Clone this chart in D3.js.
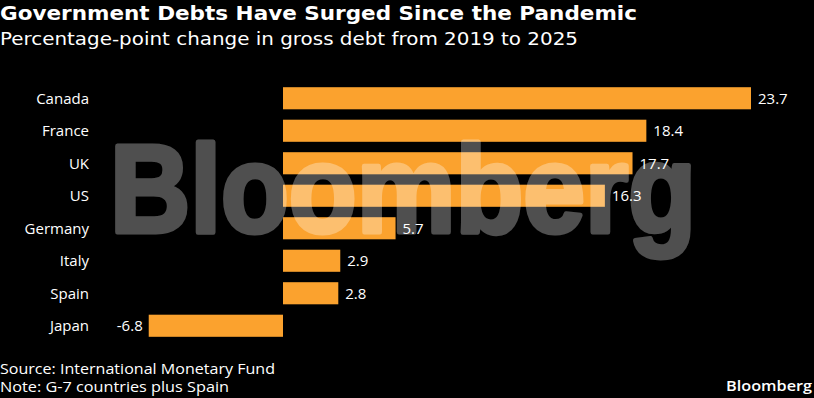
<!DOCTYPE html>
<html>
<head>
<meta charset="utf-8">
<script src="https://cdn.jsdelivr.net/npm/d3@7"></script>
<style>
	body{margin:0;background:#000;}
	svg{display:block;}
</style>
</head>
<body>
<div id="chart"></div>
<script>
// data
var countries = ["Canada","France","UK","US","Germany","Italy","Spain","Japan"];
var changes = [23.7,18.4,17.7,16.3,5.7,2.9,2.8,-6.8];

var W = 814, H = 398;
var svg = d3.select("#chart").append("svg")
	.attr("width",W).attr("height",H)
	.style("background","#000");

var font = "'Open Sans', 'DejaVu Sans', sans-serif";
var wideFont = "'DejaVu Sans', Verdana, sans-serif";

// titles
svg.append("text")
	.attr("x",0).attr("y",20)
	.attr("fill","#fff")
	.attr("font-family",wideFont)
	.attr("font-weight","bold")
	.attr("font-size",19)
	.attr("textLength",637)
	.attr("lengthAdjust","spacingAndGlyphs")
	.text("Government Debts Have Surged Since the Pandemic");
svg.append("text")
	.attr("x",0).attr("y",45)
	.attr("fill","#fff")
	.attr("font-family",wideFont)
	.attr("font-size",18)
	.attr("textLength",578)
	.attr("lengthAdjust","spacingAndGlyphs")
	.text("Percentage-point change in gross debt from 2019 to 2025");

var x = d3.scaleLinear().domain([0,23.7]).range([283,751]);
var y = d3.scaleBand().domain(countries).range([82,342]).paddingInner(0.32).paddingOuter(0.16);

// watermark, drawn under the bars' text but over the bars
var rows = svg.append("g");
var data = countries.map(function(c,i){ return {name:c, value:changes[i]}; });

rows.selectAll("rect").data(data).enter().append("rect")
	.attr("x",function(d){ return Math.min(x(0),x(d.value)); })
	.attr("y",function(d){ return y(d.name); })
	.attr("width",function(d){ return Math.abs(x(d.value)-x(0)); })
	.attr("height",y.bandwidth())
	.attr("fill","#FBA22E");

var mark = svg.append("g").attr("opacity",0.31);
mark.append("text")
	.attr("x",110).attr("y",232)
	.attr("fill","#fff")
	.attr("stroke","#fff")
	.attr("stroke-width",5)
	.attr("stroke-linejoin","round")
	.attr("font-family","'Liberation Sans', Arial, sans-serif")
	.attr("font-weight","bold")
	.attr("font-size",124)
	.attr("textLength",586)
	.attr("lengthAdjust","spacingAndGlyphs")
	.text("Bloomberg");

// category labels
rows.selectAll("text.cat").data(data).enter().append("text")
	.attr("class","cat")
	.attr("x",89)
	.attr("y",function(d){ return y(d.name)+y.bandwidth()/2; })
	.attr("dy","0.35em")
	.attr("text-anchor","end")
	.attr("fill","#fff")
	.attr("font-family",font)
	.attr("font-size",15)
	.text(function(d){ return d.name; });

// value labels
var fmt = d3.format(".1f");
svg.append("g").selectAll("text").data(data).enter().append("text")
	.attr("x",function(d){ return d.value<0 ? x(d.value)-6 : x(d.value)+7; })
	.attr("y",function(d){ return y(d.name)+y.bandwidth()/2; })
	.attr("dy","0.35em")
	.attr("text-anchor",function(d){ return d.value<0 ? "end" : "start"; })
	.attr("fill","#fff")
	.attr("font-family",font)
	.attr("font-size",15)
	.text(function(d){ return fmt(d.value).replace("\u2212","-"); });

// footer
svg.append("text")
	.attr("x",0).attr("y",374)
	.attr("fill","#fff")
	.attr("font-family",font)
	.attr("font-size",15)
	.attr("textLength",275)
	.attr("lengthAdjust","spacingAndGlyphs")
	.text("Source: International Monetary Fund");
svg.append("text")
	.attr("x",0).attr("y",392)
	.attr("fill","#fff")
	.attr("font-family",font)
	.attr("font-size",15)
	.attr("textLength",229)
	.attr("lengthAdjust","spacingAndGlyphs")
	.text("Note: G-7 countries plus Spain");
svg.append("text")
	.attr("x",726).attr("y",391)
	.attr("fill","#fff")
	.attr("font-family",font)
	.attr("font-weight","600")
	.attr("font-size",15)
	.attr("textLength",86)
	.attr("lengthAdjust","spacingAndGlyphs")
	.text("Bloomberg");
</script>
</body>
</html>
